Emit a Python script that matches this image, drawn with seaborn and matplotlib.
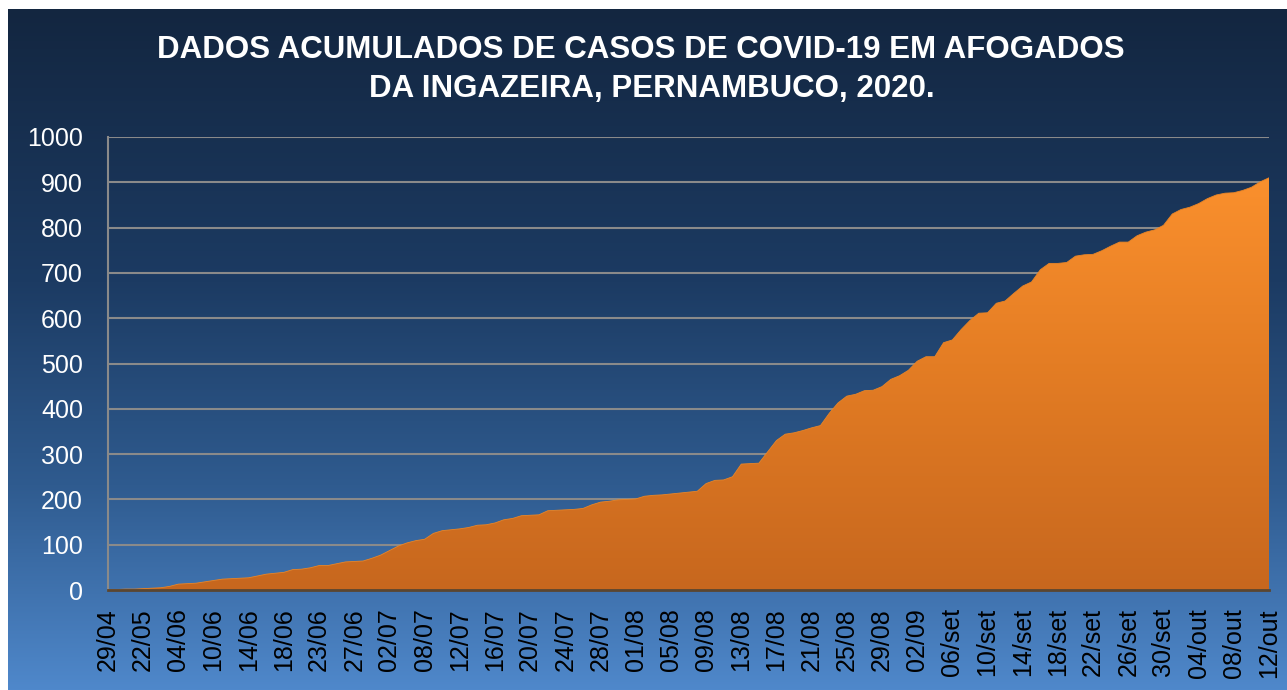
import numpy as np
import pandas as pd
import seaborn as sns
import matplotlib.pyplot as plt
from matplotlib.colors import LinearSegmentedColormap

# casos acumulados (um valor por categoria do eixo x)
casos = [1, 1, 2, 2, 3, 4, 5, 8, 13, 14,
         15, 18, 21, 24, 25, 26, 27, 31, 35, 37,
         39, 45, 46, 49, 54, 54, 58, 62, 63, 64,
         70, 77, 87, 97, 104, 109, 112, 125, 131, 133,
         135, 138, 143, 144, 148, 155, 158, 164, 165, 166,
         175, 176, 177, 178, 180, 188, 194, 196, 199, 200,
         201, 207, 209, 210, 212, 214, 216, 218, 235, 242,
         243, 250, 278, 279, 280, 305, 330, 344, 347, 352,
         358, 363, 390, 413, 428, 432, 440, 441, 449, 465,
         473, 485, 505, 515, 515, 546, 552, 575, 595, 611,
         612, 633, 638, 655, 671, 680, 707, 721, 721, 723,
         737, 740, 741, 749, 759, 768, 768, 782, 790, 795,
         805, 830, 840, 845, 853, 864, 872, 876, 877, 882,
         889, 901, 910]

# rótulos mostrados (a cada 4 categorias)
rotulos = ["29/04", "22/05", "04/06", "10/06", "14/06", "18/06", "23/06", "27/06",
           "02/07", "08/07", "12/07", "16/07", "20/07", "24/07", "28/07", "01/08",
           "05/08", "09/08", "13/08", "17/08", "21/08", "25/08", "29/08", "02/09",
           "06/set", "10/set", "14/set", "18/set", "22/set", "26/set", "30/set",
           "04/out", "08/out", "12/out"]
passo = 4

titulo1 = "DADOS ACUMULADOS DE CASOS DE COVID-19 EM AFOGADOS"
titulo2 = "DA INGAZEIRA, PERNAMBUCO, 2020."

df = pd.DataFrame({"idx": np.arange(len(casos)), "casos": casos})

sns.set_style("white")
plt.rcParams['font.family'] = ['Liberation Sans', 'DejaVu Sans']

W, H = 1287, 690
fig = plt.figure(figsize=(W / 100, H / 100), dpi=100)
fig.patch.set_facecolor("white")

# fundo em degradê azul
bg = fig.add_axes([8 / W, 0, 1 - 8 / W, 1 - 9 / H], zorder=-1)
cmap_bg = LinearSegmentedColormap.from_list(
    "fundo", [(0, "#4f88cb"), (0.3, "#2f5b8f"), (0.6, "#1c3b63"), (1, "#132640")])
bg.imshow(np.linspace(0, 1, 256).reshape(-1, 1), aspect="auto", cmap=cmap_bg,
          origin="lower", extent=[0, 1, 0, 1])
bg.axis("off")

ax = fig.add_axes([108 / W, 1 - 590 / H, (1269 - 108) / W, (590 - 137) / H])
ax.set_facecolor("none")

sns.lineplot(data=df, x="idx", y="casos", ax=ax, color="#e98526", linewidth=0.6, zorder=3)

# área com degradê laranja
area = ax.fill_between(df["idx"], df["casos"], 0, facecolor="none", edgecolor="none")
cmap_area = LinearSegmentedColormap.from_list("area", ["#c7671e", "#e47d24", "#ff942f"])
im = ax.imshow(np.linspace(0, 1, 256).reshape(-1, 1), aspect="auto", cmap=cmap_area,
               origin="lower", extent=[0, len(casos) - 1, 0, 1000], zorder=2)
im.set_clip_path(area.get_paths()[0], transform=ax.transData)

ax.set_xlim(0, len(casos) - 1)
ax.set_ylim(0, 1000)
ax.set_yticks(range(0, 1001, 100))
ax.set_xticks(range(0, len(casos), passo))
ax.set_xticklabels(rotulos, rotation=90)
ax.set_xlabel("")
ax.set_ylabel("")

ax.set_axisbelow(True)
ax.yaxis.grid(True, color="#8a8a8a", linewidth=1.5)
ax.xaxis.grid(False)
for s in ["top", "right"]:
    ax.spines[s].set_visible(False)
ax.spines["left"].set_color("#8a8a8a")
ax.spines["left"].set_linewidth(1.5)
ax.spines["bottom"].set_color("#5a4630")
ax.spines["bottom"].set_linewidth(2)
ax.spines["bottom"].set_zorder(4)

ax.tick_params(axis="y", length=0, pad=18, labelsize=18, labelcolor="white")
ax.tick_params(axis="x", length=0, pad=13, labelsize=18, labelcolor="black")

fig.text(641 / W, 1 - 50 / H, titulo1, ha="center", va="center",
         fontsize=22.5, fontweight="bold", color="white")
fig.text(652 / W, 1 - 89 / H, titulo2, ha="center", va="center",
         fontsize=22.5, fontweight="bold", color="white")

fig.savefig("out.png", dpi=100, facecolor=fig.get_facecolor())
